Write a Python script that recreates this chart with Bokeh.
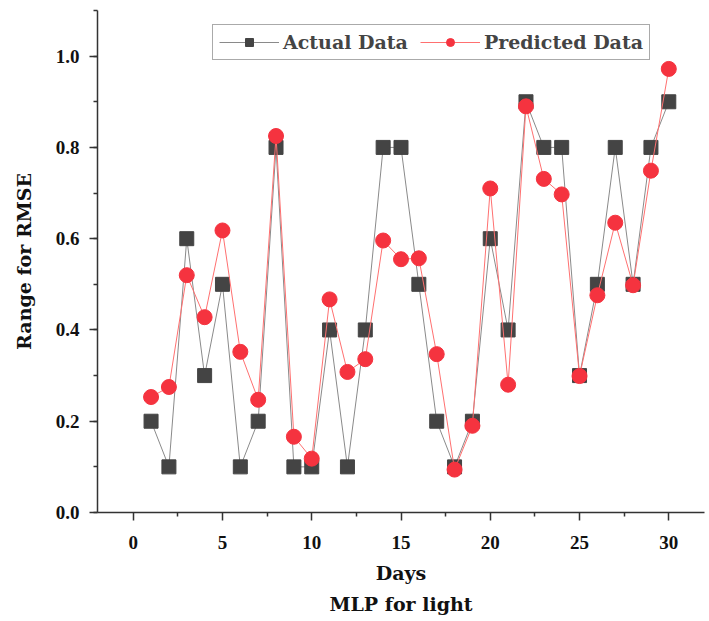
from bokeh.plotting import figure
from bokeh.models import Range1d, Title, FixedTicker, Legend, LegendItem, NumeralTickFormatter
from bokeh.embed import file_html
from bokeh.resources import INLINE

days = list(range(1, 31))
actual = [0.2, 0.1, 0.6, 0.3, 0.5, 0.1, 0.2, 0.8, 0.1, 0.1,
          0.4, 0.1, 0.4, 0.8, 0.8, 0.5, 0.2, 0.1, 0.2, 0.6,
          0.4, 0.9, 0.8, 0.8, 0.3, 0.5, 0.8, 0.5, 0.8, 0.9]
predicted = [0.253, 0.275, 0.52, 0.428, 0.618, 0.352, 0.247, 0.825, 0.166, 0.118,
             0.467, 0.308, 0.336, 0.596, 0.555, 0.557, 0.347, 0.094, 0.19, 0.71,
             0.28, 0.89, 0.731, 0.697, 0.299, 0.476, 0.635, 0.498, 0.749, 0.972]
x_ticks = [0, 5, 10, 15, 20, 25, 30]
y_ticks = [0.0, 0.2, 0.4, 0.6, 0.8, 1.0]

SERIF = "DejaVu Serif"
NARROW = "Liberation Sans Narrow"

p = figure(width=708, height=620, output_backend="svg", toolbar_location=None,
           x_range=Range1d(-2, 32), y_range=Range1d(0, 1.1),
           min_border_left=97, min_border_top=10, min_border_right=4)
p.frame_width = 607
p.frame_height = 502
p.outline_line_color = None
p.grid.visible = False
p.background_fill_color = "white"

l1 = p.line(days, actual, line_color="#8a8a8a", line_width=1)
s1 = p.scatter(days, actual, marker="square", size=14, fill_color="#444444", line_color="#444444")
l2 = p.line(days, predicted, line_color="#ff7070", line_width=1)
s2 = p.scatter(days, predicted, marker="circle", size=15, fill_color="#f5333f", line_color="#f5333f")

legend = Legend(items=[LegendItem(label="Actual Data", renderers=[l1, s1]),
                       LegendItem(label="Predicted Data", renderers=[l2, s2])],
                orientation="horizontal", location=(115, 452))
legend.label_text_font = SERIF
legend.label_text_font_style = "bold"
legend.label_text_font_size = "19px"
legend.glyph_width = 60
legend.label_standoff = 4
legend.spacing = 12
legend.padding = 6
legend.margin = 0
legend.border_line_color = "#555555"
legend.border_line_width = 1
p.add_layout(legend, "center")

for ax in (p.xaxis[0], p.yaxis[0]):
    ax.axis_line_color = "#333333"
    ax.axis_line_width = 1.5
    ax.major_tick_line_color = "#333333"
    ax.major_tick_line_width = 1.5
    ax.minor_tick_line_color = "#333333"
    ax.minor_tick_line_width = 1.5
    ax.major_tick_out = 8
    ax.major_tick_in = 0
    ax.minor_tick_out = 4
    ax.minor_tick_in = 0
    ax.major_label_text_font = NARROW
    ax.major_label_text_font_style = "bold"
    ax.major_label_text_font_size = "19px"
    ax.major_label_text_color = "#111111"
    ax.axis_label_text_font = SERIF
    ax.axis_label_text_font_style = "bold"
    ax.axis_label_text_font_size = "19px"
    ax.axis_label_text_color = "#111111"

p.xaxis.ticker = FixedTicker(ticks=x_ticks, minor_ticks=[-2.5 + 5 * i for i in range(8)])
p.yaxis.ticker = FixedTicker(ticks=y_ticks, minor_ticks=[0.1 * i for i in range(12)])
p.yaxis.formatter = NumeralTickFormatter(format="0.0")
p.xaxis.axis_label = "Days"
p.yaxis.axis_label = "Range for RMSE"
p.xaxis.major_label_standoff = 15
p.xaxis.axis_label_standoff = 10
p.yaxis.major_label_standoff = 10
p.yaxis.axis_label_standoff = 18

t = Title(text="MLP for light", align="center", text_font=SERIF, text_font_style="bold",
          text_font_size="19px", text_color="#111111", standoff=8)
p.add_layout(t, "below")

open("out.html", "w").write(file_html(p, INLINE))
